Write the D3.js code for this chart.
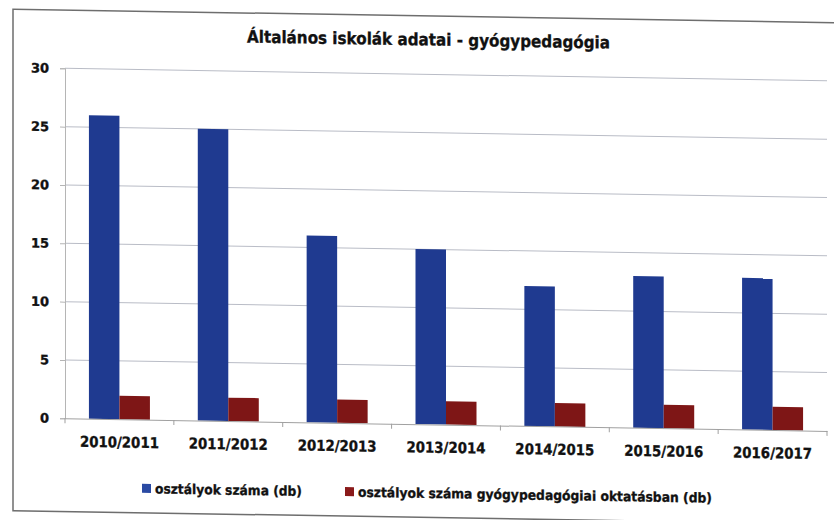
<!DOCTYPE html>
<html>
<head>
<meta charset="utf-8">
<script src="https://cdn.jsdelivr.net/npm/d3@7"></script>
<style>
  html, body { margin: 0; padding: 0; background: #ffffff; }
  svg { display: block; }
  text { font-family: "DejaVu Sans", sans-serif; font-weight: bold; fill: #111; stroke: #111; stroke-width: 0.35px; }
</style>
</head>
<body>
<svg id="chart" width="834" height="520"></svg>
<script>
const title = "Általános iskolák adatai - gyógypedagógia";
const categories = ["2010/2011", "2011/2012", "2012/2013", "2013/2014", "2014/2015", "2015/2016", "2016/2017"];
const seriesNames = ["osztályok száma (db)", "osztályok száma gyógypedagógiai oktatásban (db)"];
const osztalyok = [26, 25, 16, 15, 12, 13, 13];
const gyogypedagogiai = [2, 2, 2, 2, 2, 2, 2];
const yTicks = [0, 5, 10, 15, 20, 25, 30];
const colors = ["#1f3a90", "#7e1616"];

const FONT = "'DejaVu Sans', sans-serif";
const svg = d3.select("#chart");
const k = 0.0165; // slight skew of the scanned page
const root = svg.append("g").attr("transform", `matrix(1,${k},0,1,0,${-k * 65})`);

// outer frame
root.append("rect").attr("x", 13).attr("y", 10).attr("width", 900).attr("height", 501.5)
  .attr("fill", "none").attr("stroke", "#6e6e6e").attr("stroke-width", 1.5);

const L = 65, R = 827, T = 68.3, B = 418.3;
const x = d3.scaleBand().domain(categories).range([L, R]).padding(0);
const xs = d3.scaleBand().domain(seriesNames).range([-30.5, 30.5]);
const y = d3.scaleLinear().domain([0, 30]).range([B, T]);

// gridlines
root.append("g").selectAll("line").data(yTicks.filter(v => v > 0)).join("line")
  .attr("x1", L).attr("x2", R).attr("y1", d => y(d)).attr("y2", d => y(d))
  .attr("stroke", "#b9bcc6").attr("stroke-width", 1);

// y axis
const yAxis = root.append("g").attr("transform", `translate(${L},0)`)
  .call(d3.axisLeft(y).tickValues(yTicks).tickSize(5).tickPadding(10));
yAxis.select(".domain").attr("stroke", "#b5b5b5");
yAxis.selectAll(".tick line").attr("stroke", "#b5b5b5");
yAxis.selectAll(".tick text").attr("font-size", 13).attr("font-family", FONT)
  .attr("font-weight", "bold").attr("fill", "#111").attr("dx", -1);

// bars
const data = categories.map((c, i) => ({ c, vals: [osztalyok[i], gyogypedagogiai[i]] }));
const groups = root.append("g").selectAll("g").data(data).join("g")
  .attr("transform", d => `translate(${x(d.c) + x.bandwidth() / 2},0)`);
groups.selectAll("rect").data(d => d.vals.map((v, j) => ({ v, s: seriesNames[j], j }))).join("rect")
  .attr("x", d => xs(d.s)).attr("width", xs.bandwidth())
  .attr("y", d => y(d.v)).attr("height", d => B - y(d.v))
  .attr("fill", d => colors[d.j]);

// x axis
const xAxis = root.append("g").attr("transform", `translate(0,${B})`)
  .call(d3.axisBottom(x).tickSize(0).tickPadding(20));
xAxis.select(".domain").attr("stroke", "#a0a0a0");
xAxis.selectAll(".tick text").attr("font-size", 15).attr("font-family", FONT)
  .attr("font-weight", "bold").attr("fill", "#111").attr("dy", "0.55em")
  .attr("textLength", 79).attr("lengthAdjust", "spacingAndGlyphs");
// category separator ticks
const bounds = d3.range(categories.length + 1).map(i => L + i * x.step());
root.append("g").selectAll("line").data(bounds).join("line")
  .attr("x1", d => d).attr("x2", d => d).attr("y1", B).attr("y2", B + 5)
  .attr("stroke", "#a0a0a0");

// title
root.append("text").attr("x", 428.5).attr("y", 39.5).attr("text-anchor", "middle")
  .attr("font-size", 17).attr("textLength", 363).attr("lengthAdjust", "spacingAndGlyphs")
  .text(title);

// legend
const legendItems = [
  { name: seriesNames[0], sx: 142, tx: 155, tw: 147, color: "#2a4aa3" },
  { name: seriesNames[1], sx: 345, tx: 358, tw: 354, color: "#8a1a1a" }
];
const lg = root.append("g");
lg.selectAll("rect").data(legendItems).join("rect")
  .attr("x", d => d.sx).attr("y", 482.5).attr("width", 9).attr("height", 9)
  .attr("fill", d => d.color);
lg.selectAll("text").data(legendItems).join("text")
  .attr("x", d => d.tx).attr("y", 492).attr("font-size", 13.5)
  .attr("textLength", d => d.tw).attr("lengthAdjust", "spacingAndGlyphs")
  .text(d => d.name);
</script>
</body>
</html>
